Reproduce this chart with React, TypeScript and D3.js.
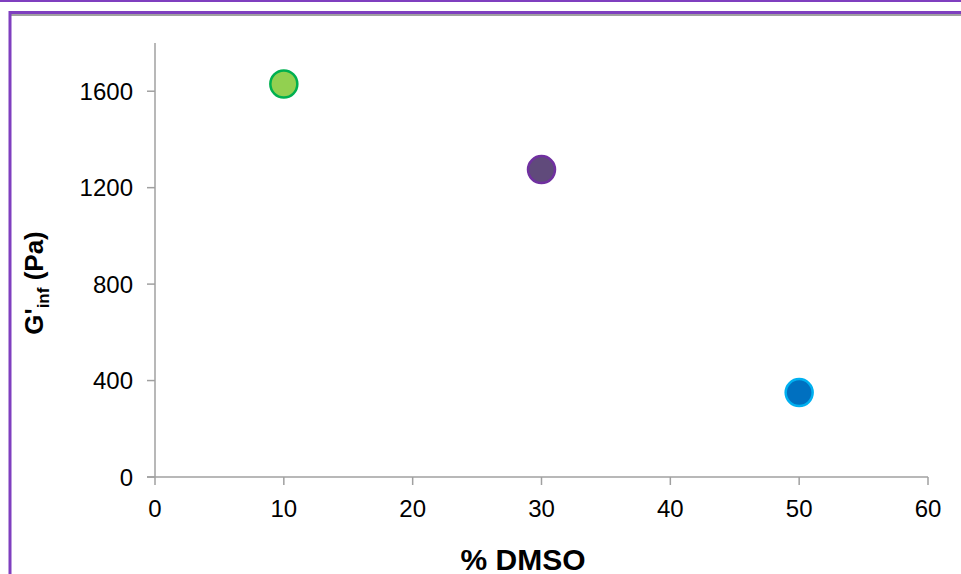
import React from "react";
import * as d3 from "d3";

const xValues = [10, 30, 50];
const yValues = [1630, 1275, 350];
const fills = ["#92d050", "#604a7b", "#0070c0"];
const strokes = ["#00b050", "#7030a0", "#00b0f0"];
const xTicks = [0, 10, 20, 30, 40, 50, 60];
const yTicks = [0, 400, 800, 1200, 1600];

export default function App() {
  const W = 961, H = 574;
  const x = d3.scaleLinear().domain([0, 60]).range([155, 928]);
  const y = d3.scaleLinear().domain([0, 1800]).range([477, 43]);
  const axisColor = "#a0a0a0";
  const font = "'Liberation Sans', Arial, sans-serif";
  return (
    <svg width={W} height={H} style={{ position: "absolute", left: 0, top: 0 }}>
      <rect x={0} y={0} width={W} height={H} fill="#fff" />
      <line x1={0} x2={W} y1={1} y2={1} stroke="#7f3fbf" strokeWidth={2} />
      <line x1={10} x2={W} y1={15} y2={15} stroke="#a0a0a0" strokeWidth={2} />
      <line x1={10} x2={W} y1={12.5} y2={12.5} stroke="#7f3fbf" strokeWidth={3} />
      <line x1={10} x2={10} y1={11} y2={H} stroke="#7f3fbf" strokeWidth={3} />
      {/* axes */}
      <line x1={x(0)} x2={x(0)} y1={y(1800)} y2={y(0)} stroke={axisColor} strokeWidth={1.5} />
      <line x1={x(0) - 8} x2={x(60)} y1={y(0)} y2={y(0)} stroke={axisColor} strokeWidth={1.5} />
      {yTicks.map((t) => (
        <g key={"y" + t}>
          <line x1={x(0) - 8} x2={x(0)} y1={y(t)} y2={y(t)} stroke={axisColor} strokeWidth={1.5} />
          <text x={133} y={y(t)} dy="0.36em" textAnchor="end" fontFamily={font} fontSize={24} fill="#000">
            {t}
          </text>
        </g>
      ))}
      {xTicks.map((t) => (
        <g key={"x" + t}>
          <line x1={x(t)} x2={x(t)} y1={y(0)} y2={y(0) + 8} stroke={axisColor} strokeWidth={1.5} />
          <text x={x(t)} y={517} textAnchor="middle" fontFamily={font} fontSize={24} fill="#000">
            {t}
          </text>
        </g>
      ))}
      <text x={523} y={570} textAnchor="middle" fontFamily={font} fontSize={30} fontWeight="bold" fill="#000">
        % DMSO
      </text>
      <text
        transform={`translate(43, 283) rotate(-90)`}
        textAnchor="middle"
        fontFamily={font}
        fontSize={26}
        fontWeight="bold"
        fill="#000"
      >
        G'<tspan fontSize={17} dy={6}>inf</tspan>
        <tspan dy={-6}> (Pa)</tspan>
      </text>
      {xValues.map((v, i) => (
        <circle key={i} cx={x(v)} cy={y(yValues[i])} r={13.5} fill={fills[i]} stroke={strokes[i]} strokeWidth={2.5} />
      ))}
    </svg>
  );
}
